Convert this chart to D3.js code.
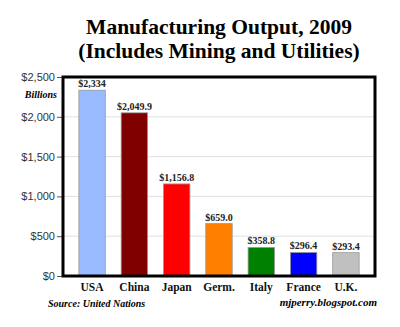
<!DOCTYPE html>
<html><head><meta charset="utf-8">
<script src="https://cdn.jsdelivr.net/npm/d3@7/dist/d3.min.js"></script>
<style>body{margin:0;background:#fff}svg{display:block}</style>
</head><body>
<svg id="c" width="400" height="327"></svg>
<script>
const categories = ["USA","China","Japan","Germ.","Italy","France","U.K."];
const values = [2334, 2049.9, 1156.8, 659.0, 358.8, 296.4, 293.4];
const valueLabels = ["$2,334","$2,049.9","$1,156.8","$659.0","$358.8","$296.4","$293.4"];
const colors = ["#99bbff","#800000","#ff0000","#ff8000","#008000","#0000ff","#c0c0c0"];
const tickValues = [0,500,1000,1500,2000,2500];
const tickLabels = ["$0","$500","$1,000","$1,500","$2,000","$2,500"];

const svg = d3.select("#c");
const L = 63, R = 375, T = 77, B = 276;
const x = d3.scaleBand().domain(categories).range([L, R]).paddingInner(0.375).paddingOuter(0.375);
const y = d3.scaleLinear().domain([0, 2500]).range([B, T]);
const serif = "'Liberation Serif', 'DejaVu Serif', serif";

// title
svg.append("text").attr("x",(L+R)/2).attr("y",34).attr("text-anchor","middle")
  .style("font-family", serif).style("font-weight","bold").style("font-size","21.5px").attr("fill","#000")
  .text("Manufacturing Output, 2009");
svg.append("text").attr("x",(L+R)/2).attr("y",58).attr("text-anchor","middle")
  .style("font-family", serif).style("font-weight","bold").style("font-size","21.5px").attr("fill","#000")
  .text("(Includes Mining and Utilities)");

// gridlines
svg.append("g").selectAll("line").data(tickValues.slice(1,-1)).join("line")
  .attr("x1", L).attr("x2", R).attr("y1", d=>y(d)).attr("y2", d=>y(d))
  .attr("stroke", "#e0e0e0").attr("stroke-width", 1);

// axis
const ax = svg.append("g").attr("transform", `translate(${L},0)`)
  .call(d3.axisLeft(y).tickValues(tickValues).tickFormat((d,i)=>tickLabels[i]).tickSize(6).tickPadding(2));
ax.select(".domain").remove();
ax.selectAll(".tick line").attr("stroke","#555");
ax.selectAll(".tick text").style("font-family","'Liberation Sans', Arial, sans-serif").style("font-size","11px").attr("fill","#333");

// bars
svg.append("g").selectAll("rect").data(values).join("rect")
  .attr("x", (d,i)=>x(categories[i])).attr("width", x.bandwidth())
  .attr("y", d=>y(d)).attr("height", d=>B - y(d))
  .attr("fill", (d,i)=>colors[i]).attr("stroke","#999").attr("stroke-width",0.8);

// value labels
svg.append("g").selectAll("text").data(values).join("text")
  .attr("x", (d,i)=>x(categories[i]) + x.bandwidth()/2).attr("y", d=>y(d)-3)
  .attr("text-anchor","middle").style("font-family", serif).style("font-weight","bold")
  .style("font-size","10px").attr("fill","#222").text((d,i)=>valueLabels[i]);

// frame
svg.append("rect").attr("x", L).attr("y", T).attr("width", R-L).attr("height", B-T)
  .attr("fill","none").attr("stroke","#000").attr("stroke-width",3);

// category labels
svg.append("g").selectAll("text").data(categories).join("text")
  .attr("x", d=>x(d)+x.bandwidth()/2).attr("y", 291).attr("text-anchor","middle")
  .style("font-family", serif).style("font-weight","bold").style("font-size","11.5px").attr("fill","#111").text(d=>d);

svg.append("text").attr("x", 57).attr("y", 98).attr("text-anchor","end")
  .style("font-family", serif).style("font-weight","bold").style("font-style","italic").style("font-size","10px").text("Billions");
svg.append("text").attr("x", 48).attr("y", 307)
  .style("font-family", serif).style("font-weight","bold").style("font-style","italic").style("font-size","10px").text("Source: United Nations");
svg.append("text").attr("x", 377).attr("y", 306).attr("text-anchor","end")
  .style("font-family", serif).style("font-weight","bold").style("font-style","italic").style("font-size","11px").text("mjperry.blogspot.com");
</script>
</body></html>
